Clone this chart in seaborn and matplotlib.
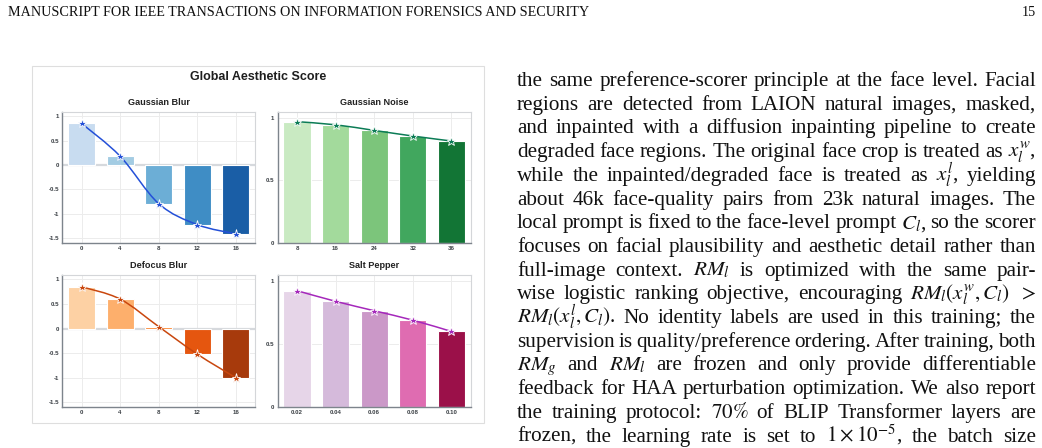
import numpy as np
import pandas as pd
import seaborn as sns
import matplotlib
matplotlib.use("Agg")
import matplotlib.pyplot as plt
from matplotlib.path import Path
from matplotlib.patches import PathPatch, Rectangle

# ---- chart data ----
blur_levels = ["0", "4", "8", "12", "16"]
blur_scores = [0.85, 0.18, -0.79, -1.22, -1.41]

noise_levels = ["8", "16", "24", "32", "36"]
noise_scores = [0.97, 0.945, 0.90, 0.855, 0.815]

defocus_levels = ["0", "4", "8", "12", "16"]
defocus_scores = [0.85, 0.60, 0.04, -0.52, -1.00]

saltpepper_levels = ["0.02", "0.04", "0.06", "0.08", "0.10"]
saltpepper_scores = [0.925, 0.84, 0.765, 0.69, 0.60]

panel_titles = ["Gaussian Blur", "Gaussian Noise", "Defocus Blur", "Salt Pepper"]
main_title = "Global Aesthetic Score"

header_text = "MANUSCRIPT FOR IEEE TRANSACTIONS ON INFORMATION FORENSICS AND SECURITY"
page_number = "15"

body_lines = [
    "the same preference-scorer principle at the face level. Facial",
    "regions are detected from LAION natural images, masked,",
    "and inpainted with a diffusion inpainting pipeline to create",
    "degraded face regions. The original face crop is treated as $x_l^w$,",
    "while the inpainted/degraded face is treated as $x_l^l$, yielding",
    "about 46k face-quality pairs from 23k natural images. The",
    "local prompt is fixed to the face-level prompt $C_l$, so the scorer",
    "focuses on facial plausibility and aesthetic detail rather than",
    "full-image context. $RM_l$ is optimized with the same pair-",
    "wise logistic ranking objective, encouraging $RM_l(x_l^w,C_l)$ $>$",
    "$RM_l(x_l^l,C_l)$. No identity labels are used in this training; the",
    "supervision is quality/preference ordering. After training, both",
    "$RM_g$ and $RM_l$ are frozen and only provide differentiable",
    "feedback for HAA perturbation optimization. We also report",
    "the training protocol: $70\\%$ of BLIP Transformer layers are",
    "frozen, the learning rate is set to $1\\times10^{-5}$, the batch size",
]

# ---- styles ----
blues = ["#c8dcf0", "#a3cce3", "#6caed6", "#3f8dc5", "#1a5ea6"]
greens = ["#c9eac2", "#a3da9c", "#7cc57b", "#41a75e", "#127535"]
oranges = ["#fdd1a4", "#fdaf6c", "#fb8c3c", "#e5560f", "#a73a0c"]
purples = ["#e6d5e8", "#d5badb", "#cb98c8", "#df6cb1", "#9b1049"]
line_colors = ["#2450d8", "#0c7c56", "#c9470e", "#a528bb"]

W, H = 1042, 448

sns.set_theme(style="white")
plt.rcParams["font.family"] = ["Liberation Sans", "DejaVu Sans"]
plt.rcParams["mathtext.fontset"] = "stix"

fig = plt.figure(figsize=(W / 100, H / 100), dpi=100)
fig.patch.set_facecolor("white")


def px_box(left, top, right, bottom):
    return [left / W, 1 - bottom / H, (right - left) / W, (bottom - top) / H]


def smooth_path(xs, ys):
    pts = np.column_stack([xs, ys]).astype(float)
    n = len(pts)
    verts = [pts[0]]
    codes = [Path.MOVETO]
    for i in range(n - 1):
        p0 = pts[max(i - 1, 0)]
        p1 = pts[i]
        p2 = pts[i + 1]
        p3 = pts[min(i + 2, n - 1)]
        verts += [p1 + (p2 - p0) / 6, p2 - (p3 - p1) / 6, p2]
        codes += [Path.CURVE4] * 3
    return Path(verts, codes)


def draw_panel(ax, title, levels, scores, bar_colors, line_color, ylim, yticks):
    df = pd.DataFrame({"level": levels, "score": scores})
    sns.barplot(data=df, x="level", y="score", hue="level", order=levels,
                hue_order=levels, palette=bar_colors, legend=False, saturation=1,
                width=0.7, edgecolor="white", linewidth=0.8, ax=ax, zorder=2)
    ax.set_xlim(-0.5, len(levels) - 0.5)
    ax.set_ylim(*ylim)
    ax.set_yticks(yticks, labels=[f"{v:g}" for v in yticks])
    ax.set_axisbelow(True)
    ax.grid(True, color="#ececec", lw=0.7)
    if ylim[0] < 0:
        ax.axhline(0, color="#d6d9dd", lw=1.6, zorder=1.5)

    xs = np.arange(len(scores))
    ax.add_patch(PathPatch(smooth_path(xs, scores), fill=False,
                           edgecolor=line_color, lw=1.1, zorder=3))
    ax.plot(xs, scores, ls="none", marker="*", ms=6.5, color=line_color,
            mec="white", mew=0.6, zorder=4)

    ax.set_xlabel("")
    ax.set_ylabel("")
    ax.set_title(title, fontsize=6.6, fontweight="bold", color="#222222", pad=5)
    ax.tick_params(length=0, labelsize=4.4, pad=2.5, labelcolor="#3a3f44")
    for lab in ax.get_xticklabels() + ax.get_yticklabels():
        lab.set_fontweight("bold")
    for s in ["top", "right"]:
        ax.spines[s].set_color("#d4d6d9")
        ax.spines[s].set_linewidth(0.8)
    for s in ["left", "bottom"]:
        ax.spines[s].set_color("#7d848c")
        ax.spines[s].set_linewidth(1.0)


# chart frame and title
fig.add_artist(Rectangle((32 / W, 1 - 423 / H), (484 - 32) / W, (423 - 66) / H,
                         transform=fig.transFigure, fill=False,
                         ec="#dedede", lw=0.8))
fig.text(258 / W, 1 - 77 / H, main_title, ha="center", va="center",
         fontsize=9, fontweight="bold", color="#1e1e1e")

left_lim = (-1.59, 1.09)
left_ticks = [1, 0.5, 0, -0.5, -1, -1.5]
right_lim = (0, 1.05)
right_ticks = [0, 0.5, 1]

ax1 = fig.add_axes(px_box(62.3, 111.7, 255, 242.7))
ax2 = fig.add_axes(px_box(277.7, 111.7, 470.7, 242.7))
ax3 = fig.add_axes(px_box(62.3, 275, 255, 406.7))
ax4 = fig.add_axes(px_box(277.7, 275, 470.7, 406.7))

draw_panel(ax1, panel_titles[0], blur_levels, blur_scores, blues, line_colors[0], left_lim, left_ticks)
draw_panel(ax2, panel_titles[1], noise_levels, noise_scores, greens, line_colors[1], right_lim, right_ticks)
draw_panel(ax3, panel_titles[2], defocus_levels, defocus_scores, oranges, line_colors[2], left_lim, left_ticks)
draw_panel(ax4, panel_titles[3], saltpepper_levels, saltpepper_scores, purples, line_colors[3], right_lim, right_ticks)

# ---- page text ----
renderer = fig.canvas.get_renderer()

hdr = fig.text(8 / W, 1 - 12 / H, header_text, family="Liberation Serif",
               fontsize=10, va="center", ha="left", color="#111111")
hw = hdr.get_window_extent(renderer).width
hdr.set_fontsize(10 * 580 / hw)
fig.text(1036 / W, 1 - 12 / H, page_number, family="Liberation Serif",
         fontsize=hdr.get_fontsize(), va="center", ha="right", color="#111111")

text_left, text_right = 517, 1036
first_baseline, line_step = 86, 23.7
body_size = 15.2

for i, line in enumerate(body_lines):
    y = 1 - (first_baseline + i * line_step) / H
    words = line.split(" ")
    items = [fig.text(0, y, w, family="Liberation Serif", fontsize=body_size,
                      va="baseline", ha="left", color="#111111") for w in words]
    widths = [t.get_window_extent(renderer).width for t in items]
    gap = (text_right - text_left - sum(widths)) / max(len(words) - 1, 1)
    x = text_left
    for t, w in zip(items, widths):
        t.set_x(x / W)
        x += w + gap

fig.savefig("out.png", dpi=100, facecolor="white")
